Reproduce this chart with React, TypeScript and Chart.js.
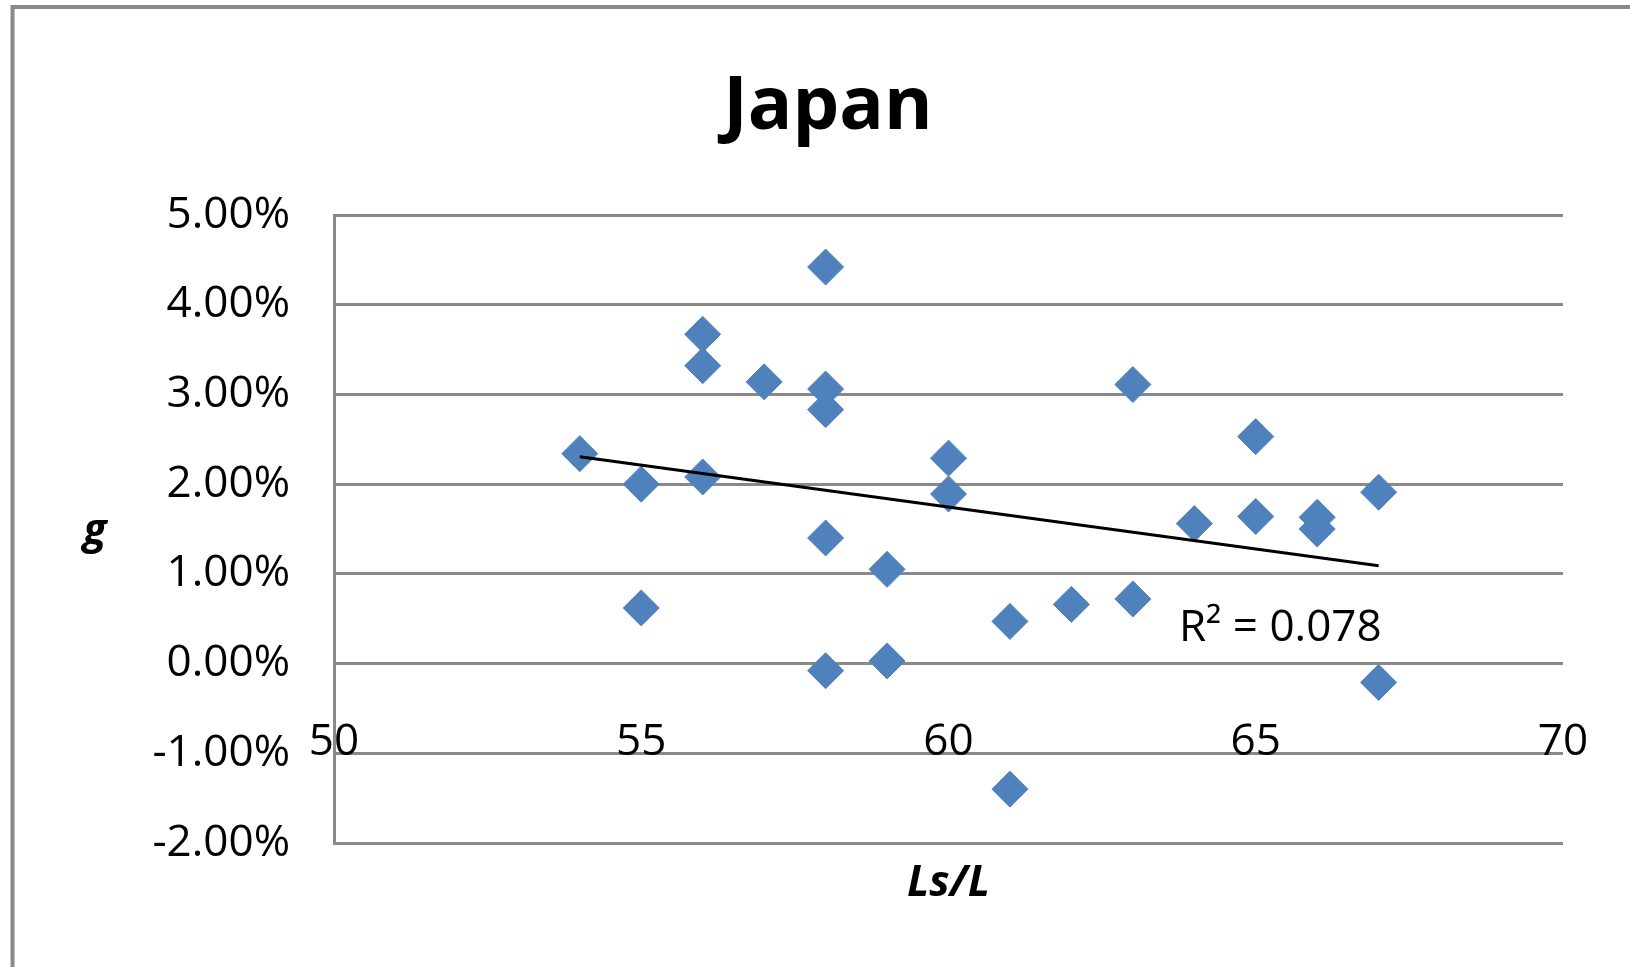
import { useEffect, useRef } from "react";
import { Chart, registerables } from "chart.js";

Chart.register(...registerables);

// ---- data ----
const lsOverL = [54, 55, 55, 56, 56, 56, 57, 58, 58, 58, 58, 58, 59, 59, 60, 60, 61, 61, 62, 63, 63, 64, 65, 65, 66, 66, 67, 67];
const gValues = [2.34, 2.0, 0.62, 3.67, 3.32, 2.08, 3.14, 4.42, 3.06, 2.83, 1.4, -0.08, 1.05, 0.03, 2.29, 1.89, 0.47, -1.4, 0.66, 0.72, 3.11, 1.56, 2.53, 1.64, 1.63, 1.5, 1.91, -0.21];
const xTicks = [50, 55, 60, 65, 70];
const yTicks = [-2, -1, 0, 1, 2, 3, 4, 5];
const chartTitle = "Japan";
const xTitle = "Ls/L";
const yTitle = "g";
const r2Text = "R² = 0.078";
const r2Anchor = [63.75, 0.25]; // data coordinates of the label's left baseline

const FONT = '"Open Sans", "Liberation Sans", sans-serif';
const GRID = "#898989";
const MARKER = "#4F81BD";

function linearFit(xs: number[], ys: number[]) {
  const n = xs.length;
  const mx = xs.reduce((a, b) => a + b, 0) / n;
  const my = ys.reduce((a, b) => a + b, 0) / n;
  let sxy = 0;
  let sxx = 0;
  for (let i = 0; i < n; i++) {
    sxy += (xs[i] - mx) * (ys[i] - my);
    sxx += (xs[i] - mx) * (xs[i] - mx);
  }
  const slope = sxy / sxx;
  return { slope, intercept: my - slope * mx };
}

const decorPlugin = {
  id: "decor",
  beforeDraw(chart: any) {
    const ctx = chart.ctx;
    ctx.save();
    ctx.strokeStyle = GRID;
    ctx.lineWidth = 4;
    ctx.beginPath();
    ctx.moveTo(12.5, chart.height + 5);
    ctx.lineTo(12.5, 7);
    ctx.lineTo(chart.width + 5, 7);
    ctx.stroke();
    ctx.restore();
  },
  afterDatasetsDraw(chart: any) {
    const ctx = chart.ctx;
    const xs = chart.scales.x;
    const ys = chart.scales.y;
    const area = chart.chartArea;
    ctx.save();
    ctx.fillStyle = "#000";
    // title
    ctx.font = `bold 74px ${FONT}`;
    ctx.textAlign = "center";
    ctx.textBaseline = "alphabetic";
    ctx.fillText(chartTitle, 828, 129);
    // axis titles
    ctx.font = `italic bold 43px ${FONT}`;
    ctx.fillText(xTitle, (area.left + area.right) / 2, 896);
    ctx.fillText(yTitle, 95, 544);
    // R² label
    ctx.font = `44px ${FONT}`;
    ctx.textAlign = "left";
    ctx.fillText(r2Text, xs.getPixelForValue(r2Anchor[0]), ys.getPixelForValue(r2Anchor[1]));
    ctx.restore();
  },
};

export default function App() {
  const canvasRef = useRef<HTMLCanvasElement | null>(null);

  useEffect(() => {
    const canvas = canvasRef.current;
    if (!canvas) return;
    const fit = linearFit(lsOverL, gValues);
    const xMinData = Math.min(...lsOverL);
    const xMaxData = Math.max(...lsOverL);
    const trend = [
      { x: xMinData, y: fit.intercept + fit.slope * xMinData },
      { x: xMaxData, y: fit.intercept + fit.slope * xMaxData },
    ];
    const points = lsOverL.map((x, i) => ({ x, y: gValues[i] }));

    const tickFont = { family: FONT, size: 44 };

    const chart = new Chart(canvas, {
      type: "scatter",
      data: {
        datasets: [
          {
            type: "line",
            label: "trend",
            data: trend,
            borderColor: "#000",
            borderWidth: 3,
            pointRadius: 0,
            fill: false,
            order: 0,
          } as any,
          {
            label: "g",
            data: points,
            pointStyle: "rectRot",
            pointRadius: 18,
            pointHoverRadius: 18,
            backgroundColor: MARKER,
            borderColor: MARKER,
            borderWidth: 1,
            order: 1,
          },
        ],
      },
      options: {
        animation: false,
        responsive: false,
        devicePixelRatio: 1,
        layout: { padding: { left: 0, top: 215, right: 67, bottom: 124 } },
        plugins: {
          legend: { display: false },
          title: { display: false },
          tooltip: { enabled: false },
        },
        scales: {
          x: {
            type: "linear",
            min: xTicks[0],
            max: xTicks[xTicks.length - 1],
            position: { y: 0 } as any,
            afterBuildTicks: (s: any) => {
              s.ticks = xTicks.map((v) => ({ value: v }));
            },
            afterFit: (s: any) => {
              s.height = 0;
              s.paddingLeft = 0;
              s.paddingRight = 0;
            },
            grid: { display: false, drawTicks: false },
            border: { display: false },
            ticks: {
              font: tickFont,
              color: "#000",
              padding: 52,
              maxRotation: 0,
              autoSkip: false,
            },
          },
          y: {
            type: "linear",
            min: yTicks[0],
            max: yTicks[yTicks.length - 1],
            afterBuildTicks: (s: any) => {
              s.ticks = yTicks.map((v) => ({ value: v }));
            },
            afterFit: (s: any) => {
              s.width = 334;
              s.paddingTop = 0;
              s.paddingBottom = 0;
            },
            grid: { color: GRID, lineWidth: 3, drawTicks: false },
            border: { display: true, color: GRID, width: 3 },
            ticks: {
              font: tickFont,
              color: "#000",
              padding: 44,
              autoSkip: false,
              callback: (v: any) => Number(v).toFixed(2) + "%",
            },
          },
        },
      },
      plugins: [decorPlugin],
    });
    return () => chart.destroy();
  }, []);

  return (
    <div style={{ position: "absolute", left: 0, top: 0, width: 1630, height: 967, background: "#fff" }}>
      <canvas ref={canvasRef} width={1630} height={967} style={{ width: 1630, height: 967, display: "block" }} />
    </div>
  );
}
